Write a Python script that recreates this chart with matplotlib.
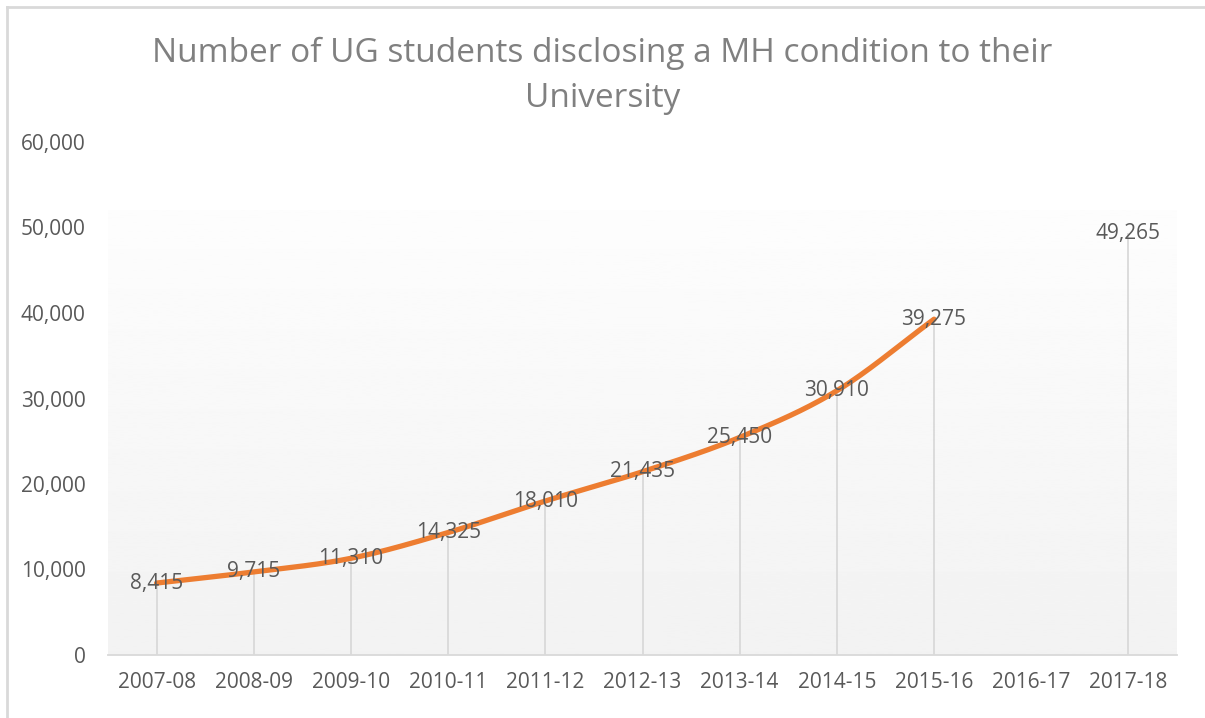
import numpy as np
import matplotlib.pyplot as plt
from matplotlib.lines import Line2D
from matplotlib.ticker import FuncFormatter

plt.rcParams['font.family'] = ['Open Sans', 'DejaVu Sans']

years = ['2007-08', '2008-09', '2009-10', '2010-11', '2011-12', '2012-13',
         '2013-14', '2014-15', '2015-16', '2016-17', '2017-18']
# 2016-17 has no figure; 2017-18 is shown on its own
students = [8415, 9715, 11310, 14325, 18010, 21435, 25450, 30910, 39275, None, 49265]

title = 'Number of UG students disclosing a MH condition to their\nUniversity'
y_ticks = [0, 10000, 20000, 30000, 40000, 50000, 60000]

ORANGE = '#ED7D31'
TEXT = '#595959'
GRID = '#D9D9D9'


def smooth_path(xs, ys, steps=30):
    # Catmull-Rom curve through the points, like a smoothed Excel line
    xs = np.asarray(xs, float)
    ys = np.asarray(ys, float)
    px = np.concatenate([[2 * xs[0] - xs[1]], xs, [2 * xs[-1] - xs[-2]]])
    py = np.concatenate([[2 * ys[0] - ys[1]], ys, [2 * ys[-1] - ys[-2]]])
    out_x, out_y = [], []
    t = np.linspace(0, 1, steps)
    for i in range(1, len(px) - 2):
        for p, out in ((px, out_x), (py, out_y)):
            p0, p1, p2, p3 = p[i - 1], p[i], p[i + 1], p[i + 2]
            out.extend(0.5 * ((2 * p1) + (-p0 + p2) * t
                              + (2 * p0 - 5 * p1 + 4 * p2 - p3) * t ** 2
                              + (-p0 + 3 * p1 - 3 * p2 + p3) * t ** 3))
    return out_x, out_y


fig = plt.figure(figsize=(12.05, 7.18), dpi=100)
ax = fig.add_axes([108 / 1205, 1 - 655 / 718, (1177 - 108) / 1205, (655 - 142) / 718])

x = np.arange(len(years))
ax.set_xlim(-0.5, len(years) - 0.5)
ax.set_ylim(0, 60000)

# soft vertical gradient behind the plot area
grad = np.linspace(0.949, 0.992, 256).reshape(-1, 1)
ax.imshow(grad, cmap='gray', vmin=0, vmax=1, aspect='auto', origin='lower',
          extent=(-0.5, len(years) - 0.5, 0, 52000), zorder=0)

# drop lines
for xi, v in zip(x, students):
    if v is not None:
        ax.plot([xi, xi], [0, v], color=GRID, lw=1.3, zorder=1)

# smoothed line for the continuous run of years
run_x = [xi for xi, v in zip(x, students) if v is not None][:9]
run_y = [v for v in students if v is not None][:9]
sx, sy = smooth_path(run_x, run_y)
ax.plot(sx, sy, color=ORANGE, lw=3.8, solid_capstyle='round', zorder=3)

for xi, v in zip(x, students):
    if v is not None:
        ax.text(xi, v, f'{v:,}', ha='center', va='center', fontsize=15,
                color=TEXT, zorder=4)

ax.set_xticks(x)
ax.set_xticklabels(years)
ax.set_yticks(y_ticks)
ax.yaxis.set_major_formatter(FuncFormatter(lambda v, _: f'{int(v):,}'))
ax.tick_params(length=0, labelsize=15, colors=TEXT)
ax.tick_params(axis='x', pad=12)
ax.tick_params(axis='y', pad=16)

for side in ['top', 'right', 'left']:
    ax.spines[side].set_visible(False)
ax.spines['bottom'].set_color(GRID)
ax.spines['bottom'].set_linewidth(1.3)

fig.text(0.5, 1 - 76 / 718, title, ha='center', va='center', fontsize=24,
         color='#808080', linespacing=1.45)

# chart frame edges
fig.add_artist(Line2D([7 / 1205, 7 / 1205], [0, 1 - 7 / 718], color=GRID, lw=2))
fig.add_artist(Line2D([7 / 1205, 1], [1 - 7 / 718, 1 - 7 / 718], color=GRID, lw=2))

fig.savefig('out.png', dpi=100)
